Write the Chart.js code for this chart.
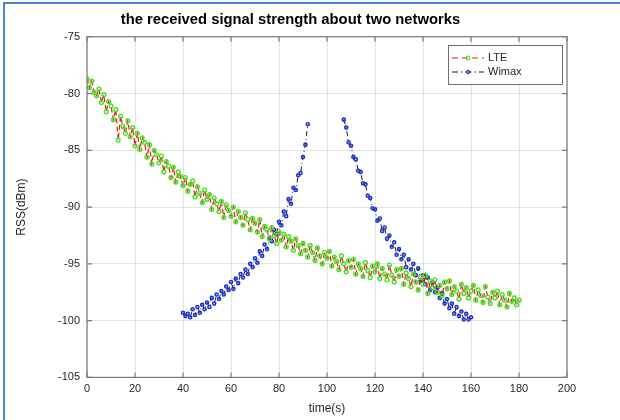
<!DOCTYPE html>
<html>
<head>
<meta charset="utf-8">
<script src="https://cdn.jsdelivr.net/npm/chart.js@4.4.1/dist/chart.umd.min.js"></script>
<style>
  html, body { margin: 0; padding: 0; background: #fff; }
  #wrap { position: relative; width: 620px; height: 420px; }
  #frame { position: absolute; left: 3px; top: 2px; right: 0; bottom: 0;
           border-left: 2px solid #4a86d4; border-top: 2px solid #4a86d4; pointer-events: none; }
</style>
</head>
<body>
<div id="wrap">
  <canvas id="rssChart" width="620" height="420"></canvas>
  <div id="frame"></div>
</div>
<script>
// Sampling: one reading per second
const sampleStep = 1;

// LTE readings from t = 0 s to t = 180 s (dBm)
const lteStart = 0;
const lteRss = [
  -78.7, -79.5, -78.9, -79.9, -80.2, -79.6, -80.8, -80.1, -81.6, -80.7,
  -81.1, -82.3, -81.4, -84.1, -82.0, -82.9, -83.5, -82.4, -83.8, -83.0,
  -84.6, -83.5, -84.9, -83.9, -84.3, -85.6, -84.5, -86.2, -85.0, -85.4,
  -86.1, -85.5, -86.9, -86.0, -86.4, -87.4, -86.5, -87.8, -86.9, -87.3,
  -88.1, -87.4, -88.6, -88.0, -87.7, -89.1, -88.2, -88.8, -89.6, -88.5,
  -89.3, -88.9, -90.2, -89.2, -89.7, -90.4, -89.5, -90.9, -89.8, -90.3,
  -90.8, -90.0, -91.3, -90.4, -90.9, -91.6, -90.5, -91.1, -92.0, -91.0,
  -91.4, -92.2, -91.1, -92.6, -91.7, -92.0, -92.8, -91.8, -92.5, -93.2,
  -92.2, -92.9, -92.4, -93.5, -92.6, -93.0, -93.8, -92.8, -93.4, -94.1,
  -93.2, -93.8, -94.4, -93.4, -94.0, -94.7, -93.6, -94.3, -95.0, -94.0,
  -94.5, -93.9, -95.2, -94.4, -94.8, -95.5, -94.3, -95.0, -95.7, -94.7,
  -95.3, -94.6, -95.9, -95.0, -95.4, -96.1, -94.9, -95.6, -96.2, -95.2,
  -95.7, -95.0, -96.3, -95.4, -95.9, -96.4, -95.1, -96.0, -96.6, -95.5,
  -96.1, -95.4, -96.8, -95.8, -96.3, -97.0, -95.9, -96.6, -97.3, -96.2,
  -96.8, -96.0, -97.6, -96.5, -97.1, -96.4, -97.5, -96.9, -97.8, -96.6,
  -97.2, -96.5, -97.7, -97.0, -97.4, -98.1, -96.8, -97.6, -97.1, -98.0,
  -97.4, -96.9, -98.2, -97.3, -97.8, -98.4, -97.0, -97.9, -98.5, -97.5,
  -98.0, -97.4, -98.6, -97.7, -98.2, -98.8, -97.6, -98.3, -98.0, -98.6,
  -98.2
];

// Wimax readings, approaching the base station (t = 40 .. 92 s)
const wimaxRiseStart = 40;
const wimaxRise = [
  -99.3, -99.6, -99.4, -99.7, -99.0, -99.5, -98.8, -99.3, -98.6, -99.0,
  -98.4, -98.8, -98.0, -98.5, -97.7, -98.1, -97.4, -97.7, -97.0, -97.3,
  -96.6, -97.2, -96.3, -96.7, -95.9, -96.2, -95.5, -95.9, -95.0, -95.3,
  -94.5, -94.9, -93.9, -94.3, -93.3, -93.7, -92.7, -93.0, -92.0, -92.4,
  -91.3, -91.6, -90.4, -90.8, -89.3, -89.7, -88.3, -88.5, -87.2, -87.0,
  -85.6, -84.5, -82.7
];

// Wimax readings, moving away (t = 107 .. 160 s)
const wimaxFallStart = 107;
const wimaxFall = [
  -82.3, -83.0, -84.3,
  -84.6, -85.6, -85.8, -86.8, -86.9, -87.9, -88.0, -89.0, -89.2, -90.1,
  -90.2, -91.2, -91.0, -92.1, -91.8, -92.8, -92.5, -93.5, -93.1, -94.2,
  -93.7, -94.6, -94.2, -95.3, -94.6, -95.5, -95.0, -96.0, -95.4, -96.5,
  -96.0, -96.8, -96.2, -97.3, -96.6, -97.5, -97.1, -98.0, -97.6, -98.5,
  -98.1, -98.9, -98.5, -99.4, -98.8, -99.6, -99.2, -99.9, -99.4, -99.9,
  -99.7
];

// Axis ticks
const xTicks = [0, 20, 40, 60, 80, 100, 120, 140, 160, 180, 200];
const yTicks = [-105, -100, -95, -90, -85, -80, -75];

const seriesNames = ["LTE", "Wimax"];

function toPoints(start, values) {
  return values.map((v, i) => ({ x: start + i * sampleStep, y: v }));
}

const ltePoints = toPoints(lteStart, lteRss);
// null point keeps the two Wimax pieces apart
const wimaxPoints = toPoints(wimaxRiseStart, wimaxRise)
  .concat([{ x: 100, y: null }])
  .concat(toPoints(wimaxFallStart, wimaxFall));

const FONT = "'Liberation Sans', Arial, Helvetica, sans-serif";
const AXIS_COLOR = "#7a7a7a";
const TEXT_COLOR = "#262626";

// box round the axes, inward ticks on all sides, and the legend
const matlabBox = {
  id: "matlabBox",
  afterDraw(chart) {
    const { ctx, chartArea: a, scales } = chart;
    ctx.save();
    ctx.strokeStyle = AXIS_COLOR;
    ctx.lineWidth = 1.2;
    ctx.strokeRect(a.left, a.top, a.right - a.left, a.bottom - a.top);

    ctx.beginPath();
    xTicks.forEach(t => {
      const px = scales.x.getPixelForValue(t);
      ctx.moveTo(px, a.bottom); ctx.lineTo(px, a.bottom - 5);
      ctx.moveTo(px, a.top); ctx.lineTo(px, a.top + 5);
    });
    yTicks.forEach(t => {
      const py = scales.y.getPixelForValue(t);
      ctx.moveTo(a.left, py); ctx.lineTo(a.left + 5, py);
      ctx.moveTo(a.right, py); ctx.lineTo(a.right - 5, py);
    });
    ctx.stroke();

    // legend
    const lx = 448, ly = 45, lw = 114, lh = 39;
    ctx.fillStyle = "#fff";
    ctx.fillRect(lx, ly, lw, lh);
    ctx.strokeStyle = "#6e6e6e";
    ctx.lineWidth = 1;
    ctx.strokeRect(lx + 0.5, ly + 0.5, lw, lh);

    ctx.font = "11px " + FONT;
    ctx.textBaseline = "middle";
    ctx.fillStyle = TEXT_COLOR;

    // LTE row
    let y = ly + 13;
    ctx.strokeStyle = "#e8141e";
    ctx.setLineDash([6, 4]);
    ctx.beginPath(); ctx.moveTo(lx + 4, y); ctx.lineTo(lx + 36, y); ctx.stroke();
    ctx.setLineDash([]);
    ctx.strokeStyle = "#3ee01c";
    ctx.beginPath(); ctx.arc(lx + 20, y, 2, 0, Math.PI * 2); ctx.stroke();
    ctx.fillText(seriesNames[0], lx + 40, y);

    // Wimax row
    y = ly + 27;
    ctx.strokeStyle = "#1a1a1a";
    ctx.setLineDash([6, 3, 1.5, 3]);
    ctx.beginPath(); ctx.moveTo(lx + 4, y); ctx.lineTo(lx + 36, y); ctx.stroke();
    ctx.setLineDash([]);
    ctx.strokeStyle = "#1a2fd0";
    ctx.beginPath(); ctx.arc(lx + 20, y, 1.8, 0, Math.PI * 2); ctx.stroke();
    ctx.fillText(seriesNames[1], lx + 40, y);
    ctx.restore();
  }
};

const ctx = document.getElementById("rssChart").getContext("2d");
const rssChart = new Chart(ctx, {
  type: "line",
  data: {
    datasets: [
      {
        label: seriesNames[1],
        data: wimaxPoints,
        borderColor: "#1a1a1a",
        borderWidth: 1,
        borderDash: [5, 3, 1, 3],
        pointRadius: 1.6,
        pointBorderWidth: 1.4,
        pointBorderColor: "#1a2fd0",
        pointBackgroundColor: "rgba(90,110,230,0.5)",
        spanGaps: false,
        order: 2
      },
      {
        label: seriesNames[0],
        data: ltePoints,
        borderColor: "#e8141e",
        borderWidth: 1.2,
        borderDash: [5, 3],
        pointRadius: 1.9,
        pointBorderWidth: 1.4,
        pointBorderColor: "#44e21e",
        pointBackgroundColor: "rgba(0,0,0,0)",
        order: 1
      }
    ]
  },
  options: {
    responsive: false,
    animation: false,
    layout: { padding: { left: 14, right: 53, top: 0, bottom: 4 } },
    plugins: {
      legend: { display: false },
      tooltip: { enabled: false },
      title: {
        display: true,
        text: "the received signal strength about two networks",
        color: "#000",
        font: { family: FONT, size: 14.8, weight: "bold" },
        padding: { top: 11, bottom: 8 }
      }
    },
    scales: {
      x: {
        type: "linear",
        min: 0,
        max: 200,
        afterBuildTicks: s => { s.ticks = xTicks.map(v => ({ value: v })); },
        ticks: { color: TEXT_COLOR, font: { family: FONT, size: 11 }, padding: 5, maxRotation: 0 },
        grid: { color: "#e3e3e3", drawTicks: false },
        border: { display: false },
        title: { display: true, text: "time(s)", color: TEXT_COLOR,
                 font: { family: FONT, size: 12 }, padding: { top: 1, bottom: 0 } }
      },
      y: {
        type: "linear",
        min: -105,
        max: -75,
        afterBuildTicks: s => { s.ticks = yTicks.map(v => ({ value: v })); },
        afterFit: s => { s.width = 73; },
        ticks: { color: TEXT_COLOR, font: { family: FONT, size: 11 }, padding: 7 },
        grid: { color: "#e3e3e3", drawTicks: false },
        border: { display: false },
        title: { display: true, text: "RSS(dBm)", color: TEXT_COLOR,
                 font: { family: FONT, size: 12 }, padding: { top: 0, bottom: 4 } }
      }
    }
  },
  plugins: [matlabBox]
});
</script>
</body>
</html>
